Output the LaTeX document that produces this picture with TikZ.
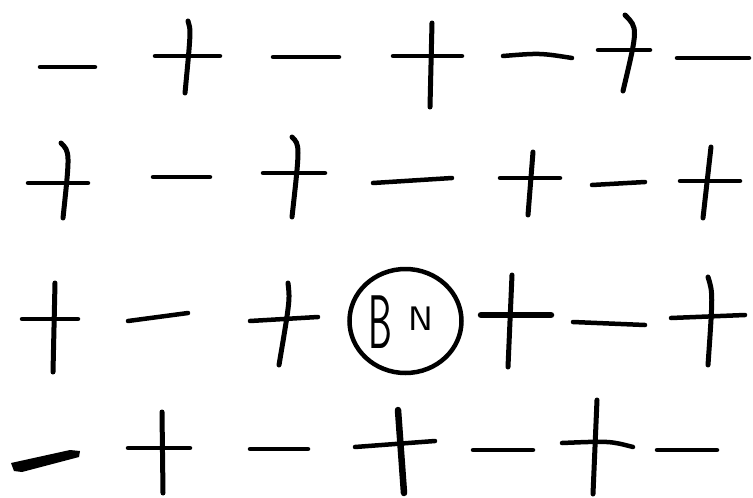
\documentclass[tikz,border=0pt]{standalone}
\begin{document}
\begin{tikzpicture}[x=1pt,y=-1pt,
  hs/.style={line width=4.5pt,line cap=round},
  vs/.style={line width=5pt,line cap=round},
  heavy/.style={line width=6.5pt,line cap=round},
  letter/.style={inner sep=0pt,anchor=base}]
\useasboundingbox (0,0) rectangle (753,498);
% row 1
\draw[hs] (40,67) -- (95,67);
\draw[hs] (155,56) -- (220,56); \draw[vs] (188,21) .. controls (191,30) .. (185,93);
\draw[hs] (273,57) -- (339,57);
\draw[hs] (393,56) -- (462,56); \draw[vs] (432,23) -- (430,107);
\draw[hs] (503,56) .. controls (540,53) .. (572,58);
\draw[hs] (598,50) -- (650,50); \draw[vs] (625,15) .. controls (638,28) .. (623,91);
\draw[hs] (677,58) -- (749,58);
% row 2
\draw[hs] (28,183) -- (88,183); \draw[vs] (61,143) .. controls (70,152) .. (63,218);
\draw[hs] (153,177) -- (210,177);
\draw[hs] (263,173) -- (325,173); \draw[vs] (292,137) .. controls (300,145) .. (292,217);
\draw[hs] (373,183) -- (452,178);
\draw[hs] (500,178) -- (560,178); \draw[vs] (533,152) -- (528,215);
\draw[hs] (592,185) -- (645,182);
\draw[hs] (680,181) -- (740,181); \draw[vs] (711,147) -- (703,218);
% row 3
\draw[hs] (22,319) -- (78,319); \draw[vs] (55,283) -- (53,372);
\draw[hs] (128,321) -- (188,313);
\draw[hs] (250,321) -- (318,317); \draw[vs] (288,283) .. controls (290,300) .. (279,365);
\draw[line width=4.5pt] (405.5,321) ellipse [x radius=56, y radius=52];
\node[letter,font=\sffamily\fontsize{76}{76}\selectfont] (b) at (380,348) {\scalebox{0.5}[1]{B}};
\node[letter,font=\sffamily\fontsize{34}{34}\selectfont] (n) at (421,330) {\scalebox{1.1}[1]{N}};
\draw[heavy] (481,315) -- (551,315); \draw[vs] (512,275) -- (508,367);
\draw[hs] (573,322) -- (645,325);
\draw[hs] (671,318) -- (745,315); \draw[vs] (708,277) .. controls (713,293) .. (708,365);
% row 4
\fill (11,463) -- (14,471) -- (22,472) -- (79,457) -- (80,451) -- (70,450) -- cycle;
\draw[hs] (128,448) -- (190,448); \draw[vs] (162,412) -- (163,493);
\draw[hs] (250,449) -- (308,449);
\draw[hs] (355,447) -- (435,441); \draw[heavy] (398,410) -- (404,493);
\draw[hs] (473,450) -- (533,450);
\draw[hs] (562,443) .. controls (610,441) .. (633,447); \draw[vs] (597,400) -- (593,494);
\draw[hs] (657,450) -- (717,450);
\end{tikzpicture}
\end{document}
